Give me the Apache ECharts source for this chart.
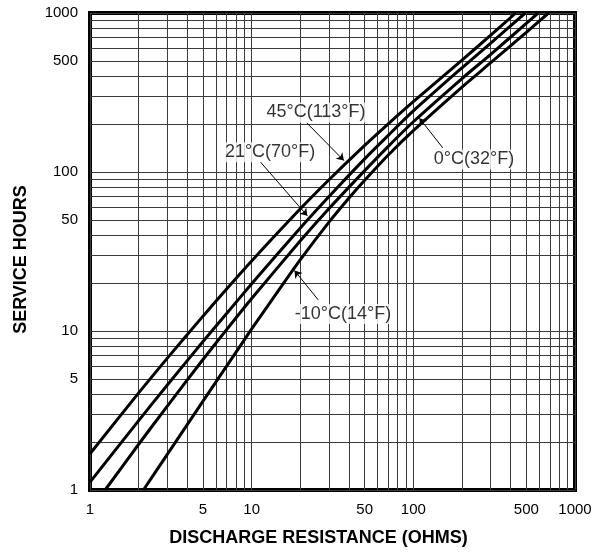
<!DOCTYPE html>
<html><head><meta charset="utf-8">
<script src="https://cdn.jsdelivr.net/npm/echarts@6/dist/echarts.min.js"></script>
<style>html,body{margin:0;padding:0;background:#fff}#c{width:601px;height:552px}</style>
</head><body><div id="c"></div>
<script>
// Discharge resistance (ohms) vs service hours, per temperature
const r45 = [1, 2, 3, 5, 7, 10, 20, 30, 50, 70, 100, 200, 300, 430];
const h45 = [1.69, 4.08, 6.73, 12.4, 18.4, 27.6, 58.7, 89.1, 147, 201, 277, 506, 723, 1000];
const r21 = [1, 2, 3, 5, 7, 10, 20, 30, 50, 70, 100, 200, 300, 493];
const h21 = [1.12, 2.73, 4.56, 8.59, 12.9, 19.8, 44.5, 69.9, 121, 170, 242, 452, 645, 1000];
const r0 = [1.24, 2, 3, 5, 7, 10, 20, 30, 50, 70, 100, 200, 300, 500, 592];
const h0 = [1, 1.94, 3.36, 6.62, 10.2, 16.0, 36.9, 58.7, 102, 145, 207, 387, 548, 860, 1000];
const rm10 = [2.14, 3, 5, 7, 10, 15, 20, 30, 40, 50, 70, 100, 200, 300, 500, 687];
const hm10 = [1, 1.67, 3.62, 6.01, 10.3, 18.6, 28.1, 48.2, 68.6, 88.7, 128, 182, 342, 485, 756, 1000];

const gridValues = [1,2,3,4,5,6,7,8,9,10,20,30,40,50,60,70,80,90,100,200,300,400,500,600,700,800,900,1000];
const tickLabels = [1,5,10,50,100,500,1000];

const labelTexts = ['45°C(113°F)', '21°C(70°F)', '0°C(32°F)', '-10°C(14°F)'];
const labelR = [25.0, 13.0, 237, 36.7];
const labelH = [237, 133, 120, 12.8];
const arrowFromR = [21.9, 11.3, 152, 25.8];
const arrowFromH = [204, 116, 142, 15.7];
const arrowToR = [37.2, 22.1, 109, 18.4];
const arrowToH = [118, 53, 218, 24.0];

const FONT = 'Liberation Sans, Arial, Helvetica, sans-serif';
const curves = [[r45,h45],[r21,h21],[r0,h0],[rm10,hm10]];

const axisCommon = {
  type: 'log', logBase: 10, min: 1, max: 1000,
  axisLine: {show: false},
  axisTick: {show: false, customValues: gridValues},
  splitLine: {show: true, lineStyle: {color: '#3a3a3a', width: 1}},
  minorSplitLine: {show: false},
  axisLabel: {customValues: tickLabels, fontSize: 15, color: '#000', fontFamily: FONT, margin: 12,
    formatter: v => String(Math.round(v))},
  nameLocation: 'middle',
  nameTextStyle: {fontSize: 18, fontWeight: 'bold', color: '#000', fontFamily: FONT}
};

const chart = echarts.init(document.getElementById('c'), null, {renderer: 'canvas'});
chart.setOption({
  animation: false,
  backgroundColor: '#fff',
  grid: {left: 90, right: 26, top: 13, bottom: 59, show: true, borderColor: '#000', borderWidth: 4, backgroundColor: 'transparent', containLabel: false},
  xAxis: Object.assign({}, axisCommon, {
    name: 'DISCHARGE RESISTANCE (OHMS)', nameGap: 39,
    nameTextStyle: Object.assign({}, axisCommon.nameTextStyle, {padding: [0, 28, 0, 0]})
  }),
  yAxis: Object.assign({}, axisCommon, {
    name: 'SERVICE HOURS', nameGap: 60, nameRotate: 90,
    nameTextStyle: Object.assign({}, axisCommon.nameTextStyle, {padding: [0, 16, 0, 0]})
  }),
  series: curves.map(c => ({
    type: 'line',
    data: c[0].map((r, i) => [r, c[1][i]]),
    showSymbol: false, symbol: 'none', smooth: 0.25, clip: true,
    lineStyle: {color: '#000', width: 3}, z: 5
  })).concat([
    {
      type: 'lines', coordinateSystem: 'cartesian2d', z: 6,
      data: arrowFromR.map((r, i) => ({coords: [[r, arrowFromH[i]], [arrowToR[i], arrowToH[i]]]})),
      lineStyle: {color: '#000', width: 1, opacity: 1},
      symbol: ['none', 'arrow'], symbolSize: 7
    },
    {
      type: 'scatter', z: 7, symbolSize: 1, itemStyle: {color: 'rgba(0,0,0,0)'},
      data: labelR.map((r, i) => ({value: [r, labelH[i]], name: labelTexts[i]})),
      label: {show: true, position: 'inside', formatter: '{b}', fontSize: 18, color: '#000',
        fontFamily: FONT, backgroundColor: '#fff', padding: [1, 2]}
    }
  ])
});
</script></body></html>
